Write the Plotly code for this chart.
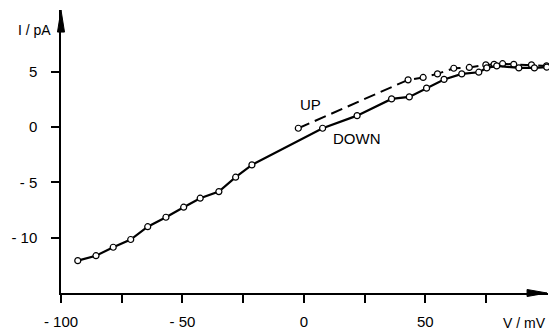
import plotly.graph_objects as go

# DOWN branch (solid line, open circles)
down_v = [-93.1, -85.6, -78.5, -71.3, -64.3, -56.8, -49.5, -42.7, -35.0, -28.1, -21.4,
          7.7, 21.9, 36.1, 43.4, 50.5, 57.7, 65.0, 72.0, 75.3, 79.4, 88.5, 94.9, 100.0]
down_i = [-12.08, -11.63, -10.87, -10.17, -9.01, -8.16, -7.25, -6.44, -5.84, -4.54, -3.43,
          -0.12, 1.02, 2.53, 2.71, 3.50, 4.29, 4.79, 4.94, 5.33, 5.51, 5.33, 5.33, 5.40]

# UP branch (dashed line, open circles)
up_v = [-2.3, 42.9, 49.1, 55.0, 61.7, 68.1, 74.9, 78.3, 81.8, 86.4, 93.7, 99.9]
up_i = [-0.12, 4.25, 4.47, 4.79, 5.30, 5.37, 5.60, 5.65, 5.71, 5.65, 5.60, 5.51]

x_tickvals = [-100, -75, -50, -25, 0, 25, 50, 75]
x_ticktext = ["- 100", "", "- 50", "", "0", "", "50", ""]
y_tickvals = [-10, -5, 0, 5]
y_ticktext = ["- 10", "- 5", "0", "5"]

FONT = "Liberation Sans, Arial, sans-serif"

fig = go.Figure()
fig.add_trace(go.Scatter(
    x=up_v, y=up_i, mode="lines+markers",
    line=dict(color="black", width=2, dash="12px,6px"),
    marker=dict(symbol="circle", size=6, color="white", line=dict(color="black", width=1.2)),
    showlegend=False, cliponaxis=False))
fig.add_trace(go.Scatter(
    x=down_v, y=down_i, mode="lines+markers",
    line=dict(color="black", width=2.2),
    marker=dict(symbol="circle", size=6, color="white", line=dict(color="black", width=1.2)),
    showlegend=False, cliponaxis=False))

fig.update_layout(
    width=549, height=331,
    margin=dict(l=61, r=1, t=10, b=38),
    paper_bgcolor="white", plot_bgcolor="white",
    font=dict(family=FONT, size=15, color="black"),
    xaxis=dict(range=[-100, 100.5], showgrid=False, zeroline=False, automargin=False,
               showline=True, linecolor="black", linewidth=1.5,
               ticks="outside", ticklen=8, tickwidth=1.5, tickcolor="black",
               tickvals=x_tickvals, ticktext=x_ticktext, ticklabelstandoff=6),
    yaxis=dict(range=[-15, 10.56], showgrid=False, zeroline=False, automargin=False,
               showline=True, linecolor="black", linewidth=1.5,
               ticks="outside", ticklen=8, tickwidth=1.5, tickcolor="black",
               tickvals=y_tickvals, ticktext=y_ticktext, ticklabelstandoff=11),
)

# axis arrows
fig.add_shape(type="path", xref="paper", yref="paper",
              path="M 0,1 L -0.0072,0.922 L 0.0072,0.922 Z",
              fillcolor="black", line=dict(color="black", width=1))
fig.add_shape(type="path", xref="paper", yref="paper",
              path="M 0.998,0 L 0.957,0.0124 L 0.957,-0.0124 Z",
              fillcolor="black", line=dict(color="black", width=1))

# axis titles
fig.add_annotation(text="I / pA", xref="paper", yref="paper", x=-0.017, y=0.93,
                   xanchor="right", yanchor="middle", showarrow=False,
                   font=dict(family=FONT, size=14))
fig.add_annotation(text="V / mV", xref="paper", yref="paper", x=1.0, y=-0.105,
                   xanchor="right", yanchor="middle", showarrow=False,
                   font=dict(family=FONT, size=14))

# curve labels
fig.add_annotation(text="UP", x=2.9, y=2.0, showarrow=False,
                   font=dict(family=FONT, size=15))
fig.add_annotation(text="DOWN", x=21.8, y=-1.08, showarrow=False,
                   font=dict(family=FONT, size=15))

fig.write_html("out.html", config={"displayModeBar": False},
               post_script="document.body.style.margin='0';document.body.style.overflow='hidden';")
